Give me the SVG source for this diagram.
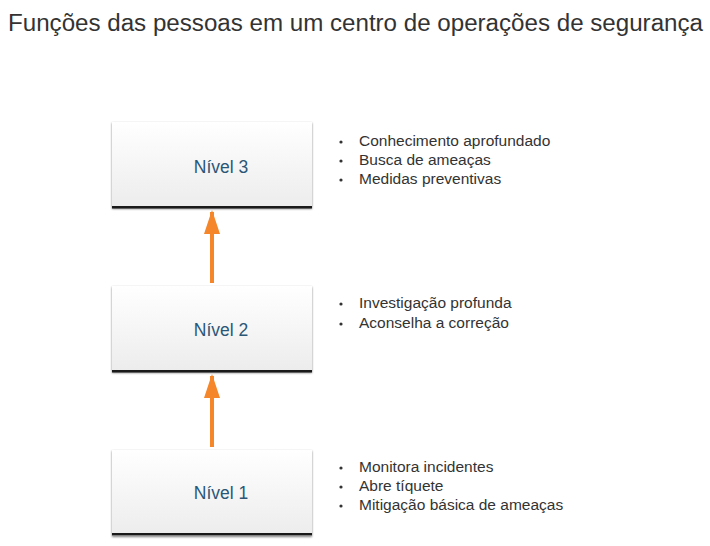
<svg xmlns="http://www.w3.org/2000/svg" width="710" height="546" viewBox="0 0 710 546">
<style>
.title{font-family:"Liberation Sans",Arial,sans-serif;font-size:23px;fill:#333}
.lbl{font-family:"Liberation Sans",Arial,sans-serif;font-size:17.5px;fill:#2b5776;text-anchor:middle}
.it{font-family:"Liberation Sans",Arial,sans-serif;font-size:15.5px;fill:#333}
.dot{fill:#333}
.box{fill:url(#g)}
.bot{fill:#1a1a1a}
.conn{stroke:#f5862a;stroke-width:4;fill:none}
</style>
<defs>
<linearGradient id="g" x1="0" y1="0" x2="0" y2="1">
<stop offset="0" stop-color="#ffffff"/>
<stop offset="1" stop-color="#ececec"/>
</linearGradient>
<filter id="sh" x="-5%" y="-5%" width="110%" height="115%">
<feGaussianBlur in="SourceAlpha" stdDeviation="1.2"/>
<feOffset dx="0" dy="1"/>
<feComponentTransfer><feFuncA type="linear" slope="0.5"/></feComponentTransfer>
<feMerge><feMergeNode/><feMergeNode in="SourceGraphic"/></feMerge>
</filter>
<marker id="ah" markerWidth="6" markerHeight="4" refX="5.5" refY="2" orient="auto" markerUnits="strokeWidth">
<path d="M0,0 L6,2 L0,4 Z" fill="#f5862a"/>
</marker>
</defs>
<text class="title" x="8" y="31" textLength="695" lengthAdjust="spacingAndGlyphs">Funções das pessoas em um centro de operações de segurança</text>
<g id="connectors">
<line class="conn" x1="212" y1="283" x2="212" y2="212" marker-end="url(#ah)"/>
<line class="conn" x1="212" y1="447" x2="212" y2="376" marker-end="url(#ah)"/>
</g>
<g id="n3">
<rect class="box" x="112" y="122" width="200" height="86" filter="url(#sh)"/>
<rect class="bot" x="112" y="206" width="200" height="2.5"/>
<text class="lbl" x="221" y="173">Nível 3</text>
</g>
<g id="n2">
<rect class="box" x="112" y="286" width="200" height="86" filter="url(#sh)"/>
<rect class="bot" x="112" y="370" width="200" height="2.5"/>
<text class="lbl" x="221" y="336">Nível 2</text>
</g>
<g id="n1">
<rect class="box" x="112" y="450" width="200" height="86" filter="url(#sh)"/>
<rect class="bot" x="112" y="533" width="200" height="2.5"/>
<text class="lbl" x="221" y="499">Nível 1</text>
</g>
<g id="t3" class="it">
<circle class="dot" cx="341" cy="142" r="1.6"/><text x="359" y="146">Conhecimento aprofundado</text>
<circle class="dot" cx="341" cy="161" r="1.6"/><text x="359" y="165">Busca de ameaças</text>
<circle class="dot" cx="341" cy="180" r="1.6"/><text x="359" y="184">Medidas preventivas</text>
</g>
<g id="t2" class="it">
<circle class="dot" cx="341" cy="304" r="1.6"/><text x="359" y="308">Investigação profunda</text>
<circle class="dot" cx="341" cy="324" r="1.6"/><text x="359" y="328">Aconselha a correção</text>
</g>
<g id="t1" class="it">
<circle class="dot" cx="341" cy="468" r="1.6"/><text x="359" y="472">Monitora incidentes</text>
<circle class="dot" cx="341" cy="487" r="1.6"/><text x="359" y="491">Abre tíquete</text>
<circle class="dot" cx="341" cy="506" r="1.6"/><text x="359" y="510">Mitigação básica de ameaças</text>
</g>
</svg>
